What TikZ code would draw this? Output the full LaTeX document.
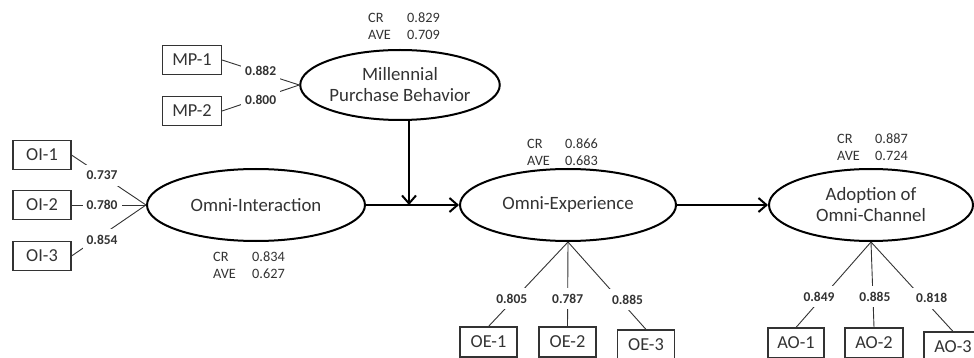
\documentclass[tikz,border=0pt]{standalone}
\usepackage{fontspec}
\setmainfont{Carlito}
\usetikzlibrary{shapes.geometric,arrows.meta}
\definecolor{txt}{HTML}{333333}
\tikzset{
  latent/.style={ellipse,draw=black,line width=2pt,inner sep=0pt,align=center,text=txt,font=\fontsize{18.8}{21}\selectfont},
  ind/.style={rectangle,draw=txt,line width=1.1pt,minimum width=57pt,minimum height=29pt,inner sep=0pt,text=txt,font=\fontsize{18.3}{22}\selectfont},
  lab/.style={fill=white,inner xsep=4pt,inner ysep=6pt,text=txt,font=\fontsize{13.5}{15}\selectfont\bfseries},
  load/.style={draw=txt,line width=0.9pt},
  path/.style={draw=black,line width=2pt,-{Straight Barb[length=8pt,width=14pt,line width=2pt]}},
  rel/.style={anchor=west,inner sep=0pt,align=left,text=txt,font=\fontsize{14.3}{17}\selectfont}
}
\begin{document}
\begin{tikzpicture}[x=1pt,y=-1pt]
\clip (0,0) rectangle (974,358);
\fill[white] (0,0) rectangle (974,358);
% latent variables
\node[latent,minimum width=198pt,minimum height=70pt] (MPB) at (400,85) {Millennial\\Purchase Behavior};
\node[latent,minimum width=218pt,minimum height=72pt] (OI) at (256,205) {Omni-Interaction};
\node[latent,minimum width=216pt,minimum height=72pt] (OE) at (568,205) {Omni-Experience};
\node[latent,minimum width=204pt,minimum height=72pt] (AO) at (871,205) {Adoption of\\Omni-Channel};
% reliability
\node[rel] (rMPB) at (368,26.5) {\makebox[39pt][l]{CR}0.829\\\makebox[39pt][l]{AVE}0.709};
\node[rel] (rOI) at (213,265.5) {\makebox[39pt][l]{CR}0.834\\\makebox[39pt][l]{AVE}0.627};
\node[rel] (rOE) at (527,152) {\makebox[38pt][l]{CR}0.866\\\makebox[38pt][l]{AVE}0.683};
\node[rel] (rAO) at (837,147) {\makebox[38pt][l]{CR}0.887\\\makebox[38pt][l]{AVE}0.724};
% indicators
\node[ind,minimum width=59pt] (MP1) at (192,60) {MP-1};
\node[ind,minimum width=59pt] (MP2) at (192,111) {MP-2};
\node[ind,minimum width=58pt] (OI1) at (42,155) {OI-1};
\node[ind,minimum width=58pt] (OI2) at (42,205) {OI-2};
\node[ind,minimum width=58pt] (OI3) at (42,256) {OI-3};
\node[ind,minimum height=30pt] (OE1) at (488.5,342) {OE-1};
\node[ind,minimum height=30pt] (OE2) at (567.5,342) {OE-2};
\node[ind,minimum height=30pt] (OE3) at (646,345) {OE-3};
\node[ind,minimum width=56pt,minimum height=30pt] (AO1) at (796,343) {AO-1};
\node[ind,minimum width=58pt,minimum height=30pt] (AO2) at (874,343) {AO-2};
\node[ind,minimum width=58pt,minimum height=30pt] (AO3) at (953,347) {AO-3};
% loadings
\draw[load] (MP1.east) -- node[lab,pos=.5,yshift=2pt] (l1) {0.882} (MPB.west);
\draw[load] (MP2.east) -- node[lab,pos=.5,yshift=-2pt] (l2) {0.800} (MPB.west);
\draw[load] (OI1.east) -- node[lab,pos=.41] (l3) {0.737} (OI.west);
\draw[load] (OI2.east) -- node[lab,pos=.41,inner ysep=3pt] (l4) {0.780} (OI.west);
\draw[load] (OI3.east) -- node[lab,pos=.41,yshift=-5pt] (l5) {0.854} (OI.west);
\draw[load] (OE.south) -- node[lab,pos=.67,xshift=-3pt] (l6) {0.805} (OE1.north);
\draw[load] (OE.south) -- node[lab,pos=.67] (l7) {0.787} (OE2.north);
\draw[load] (OE.south) -- node[lab,pos=.66,xshift=8pt] (l8) {0.885} (OE3.north);
\draw[load] (AO.south) -- node[lab,pos=.64,xshift=-4pt] (l9) {0.849} (AO1.north);
\draw[load] (AO.south) -- node[lab,pos=.64,xshift=2pt] (l10) {0.885} (AO2.north);
\draw[load] (AO.south) -- node[lab,pos=.63,xshift=9pt] (l11) {0.818} (AO3.north);
% structural paths
\coordinate (J) at (409,205);
\draw[line width=2pt] (OI.east) -- (J);
\draw[path] (J) -- (OE.west);
\draw[path] (MPB.south -| J) -- (J);
\draw[path] (OE.east) -- (AO.west);
\end{tikzpicture}
\end{document}
